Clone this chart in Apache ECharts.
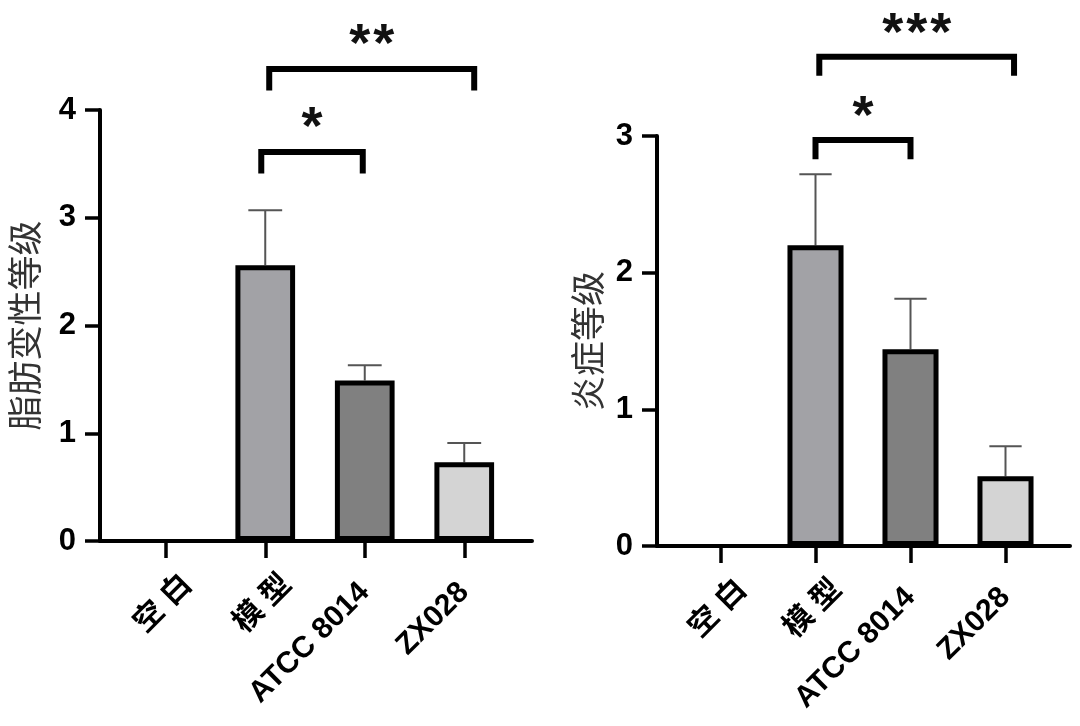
<!DOCTYPE html>
<html>
<head>
<meta charset="utf-8">
<script src="https://cdn.jsdelivr.net/npm/echarts@6/dist/echarts.min.js"></script>
<style>
  html, body { margin: 0; padding: 0; background: #fff; }
  #chart { width: 1080px; height: 726px; }
</style>
</head>
<body>
<div id="chart"></div>
<script>
// groups
var categories = ['空 白', '模 型', 'ATCC 8014', 'ZX028'];
var barColors = ['#ffffff', '#a2a2a6', '#808080', '#d4d4d4'];

// left panel: 脂肪变性等级
var fatMeans = [0, 2.56, 1.49, 0.73];
var fatErrors = [0, 0.51, 0.14, 0.18];
var fatTicks = [0, 4, 1]; // min, max, interval
// [from, to, barTop, legBottom, starY, fromShift, toShift]
var fatBrackets = [
    [1, 2, 3.61, 3.41, 3.92, -0.04, -0.02],
    [1, 3, 4.38, 4.18, 4.69, 0.04, 0.10]
];
var fatStars = ['*', '**'];

// right panel: 炎症等级
var inflamMeans = [0, 2.20, 1.44, 0.51];
var inflamErrors = [0, 0.52, 0.37, 0.22];
var inflamTicks = [0, 3, 1];
var inflamBrackets = [
    [1, 2, 2.97, 2.83, 3.21, 0, 0],
    [1, 3, 3.58, 3.44, 3.82, 0.04, 0.09]
];
var inflamStars = ['*', '***'];

var LATIN = 'Liberation Sans, Arial, sans-serif';
var CJK = 'Liberation Sans, Noto Sans CJK SC, sans-serif';

function errorItem(params, api) {
    var i = api.value(0);
    var m = api.value(1);
    var e = api.value(2);
    if (!e) return;
    var base = api.coord([i, m]);
    var top = api.coord([i, m + e]);
    var half = api.size([1, 0])[0] * 0.17;
    var st = { stroke: '#555', lineWidth: 2 };
    return {
        type: 'group',
        children: [
            { type: 'line', shape: { x1: base[0], y1: base[1], x2: top[0], y2: top[1] }, style: st },
            { type: 'line', shape: { x1: top[0] - half, y1: top[1], x2: top[0] + half, y2: top[1] }, style: st }
        ]
    };
}

function bracketItem(labels) {
    return function (params, api) {
        var band = api.size([1, 0])[0];
        var x1 = api.coord([api.value(0), 0])[0] + api.value(5) * band;
        var x2 = api.coord([api.value(1), 0])[0] + api.value(6) * band;
        var yTop = api.coord([0, api.value(2)])[1];
        var yLeg = api.coord([0, api.value(3)])[1];
        var yStar = api.coord([0, api.value(4)])[1];
        var fs = 54;
        var step = 24;
        var txt = labels[params.dataIndex];
        var mid = (x1 + x2) / 2;
        var children = [{
            type: 'polyline',
            shape: { points: [[x1, yLeg], [x1, yTop], [x2, yTop], [x2, yLeg]] },
            style: { stroke: '#000', lineWidth: 6, fill: null, lineJoin: 'miter' }
        }];
        // each star placed on its own so they sit a little apart
        for (var k = 0; k < txt.length; k++) {
            children.push({
                type: 'text',
                x: mid + (k - (txt.length - 1) / 2) * step,
                y: yStar + fs * 0.2,
                style: {
                    text: txt.charAt(k),
                    fontSize: fs,
                    fontWeight: 'bold',
                    fontFamily: LATIN,
                    fill: '#111',
                    align: 'center',
                    verticalAlign: 'middle'
                }
            });
        }
        return { type: 'group', children: children };
    };
}

function mainX(gridIndex) {
    return {
        type: 'category',
        gridIndex: gridIndex,
        data: categories,
        axisLine: { show: false },
        axisTick: { show: true, alignWithLabel: true, length: 17, lineStyle: { color: '#000', width: 3.5 } },
        axisLabel: {
            rotate: 45,
            margin: 17,
            interval: 0,
            color: '#000',
            fontWeight: 'bold',
            formatter: function (v) {
                return /[A-Za-z0-9]/.test(v) ? '{l|' + v + '}' : '{c|' + v + '}';
            },
            rich: {
                l: { fontSize: 30, fontWeight: 'bold', fontFamily: LATIN, color: '#000', padding: [42, 21, 0, 0] },
                c: { fontSize: 30, fontWeight: 'bold', fontFamily: CJK, color: '#000', padding: [62, 0, 0, 0] }
            }
        }
    };
}

function mainY(gridIndex, ticks, name, nameGap) {
    return {
        type: 'value',
        gridIndex: gridIndex,
        min: ticks[0],
        max: ticks[1],
        interval: ticks[2],
        offset: 16,
        name: name,
        nameLocation: 'middle',
        nameRotate: 90,
        nameGap: nameGap,
        nameTextStyle: { fontSize: 35, color: '#333', fontFamily: 'Noto Sans CJK SC' },
        axisLine: { show: true, lineStyle: { color: '#000', width: 4 } },
        axisTick: { show: true, length: 15, lineStyle: { color: '#000', width: 3.5 } },
        splitLine: { show: false },
        axisLabel: { margin: 24, color: '#000', fontSize: 31, fontWeight: 'bold', fontFamily: LATIN }
    };
}

function lineX(gridIndex) {
    return {
        type: 'value', gridIndex: gridIndex, min: 0, max: 1,
        axisLine: { show: true, onZero: false, lineStyle: { color: '#000', width: 4 } },
        axisTick: { show: false }, axisLabel: { show: false }, splitLine: { show: false }
    };
}

function lineY(gridIndex) {
    return { type: 'value', gridIndex: gridIndex, show: false, min: 0, max: 1, splitLine: { show: false } };
}

function panelSeries(axisIndex, means, errors, barWidth, brackets, stars) {
    return [
        {
            type: 'bar',
            xAxisIndex: axisIndex,
            yAxisIndex: axisIndex,
            barWidth: barWidth,
            z: 3,
            data: means.map(function (v, i) {
                return {
                    value: v,
                    itemStyle: { color: barColors[i], borderColor: '#000', borderWidth: v ? 5 : 0 }
                };
            })
        },
        {
            type: 'custom',
            xAxisIndex: axisIndex,
            yAxisIndex: axisIndex,
            z: 2,
            renderItem: errorItem,
            encode: { x: 0, y: 1 },
            data: means.map(function (v, i) { return [i, v, errors[i]]; })
        },
        {
            type: 'custom',
            xAxisIndex: axisIndex,
            yAxisIndex: axisIndex,
            z: 4,
            clip: false,
            renderItem: bracketItem(stars),
            encode: { x: 0, y: 2 },
            data: brackets
        }
    ];
}

var chart = echarts.init(document.getElementById('chart'));
var option = {
    backgroundColor: '#fff',
    animation: false,
    grid: [
        { left: 116, top: 110, width: 398, height: 431 },
        { left: 100, top: 110, width: 432, height: 431 },
        { left: 673, top: 136, width: 380, height: 410 },
        { left: 657, top: 136, width: 413, height: 410 }
    ],
    xAxis: [mainX(0), lineX(1), mainX(2), lineX(3)],
    yAxis: [
        mainY(0, fatTicks, '脂肪变性等级', 58),
        lineY(1),
        mainY(2, inflamTicks, '炎症等级', 52),
        lineY(3)
    ],
    series: []
        .concat(panelSeries(0, fatMeans, fatErrors, '60%', fatBrackets, fatStars))
        .concat(panelSeries(2, inflamMeans, inflamErrors, '59%', inflamBrackets, inflamStars))
};
chart.setOption(option);
</script>
</body>
</html>
